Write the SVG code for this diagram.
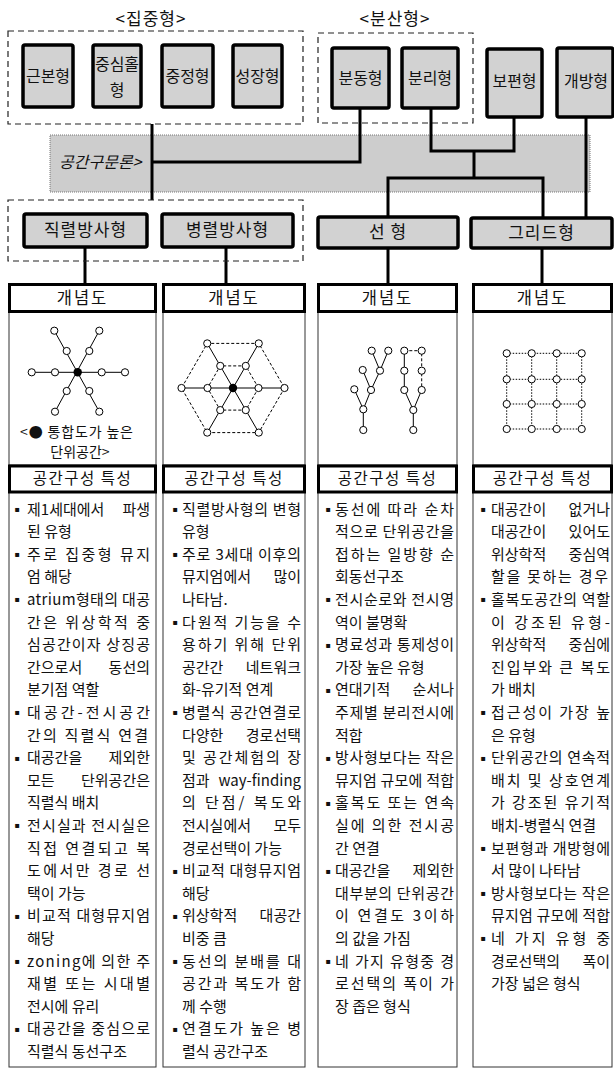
<svg xmlns="http://www.w3.org/2000/svg" width="614" height="1072" viewBox="0 0 614 1072">
<style>
text{font-family:"Noto Sans CJK KR","Noto Sans",sans-serif;fill:#111;}
.h{font-size:16px;text-anchor:middle;}
.h17{font-size:17px;text-anchor:middle;letter-spacing:1px;}
.gbox{fill:#d2d2d2;stroke:#000;stroke-width:3.5;}
.wbox{fill:#fff;stroke:#000;stroke-width:3;}
.dash{fill:none;stroke:#222;stroke-width:1.2;stroke-dasharray:6 4;}
.con{fill:none;stroke:#000;stroke-width:3;}
.body{fill:none;stroke:#333;stroke-width:1;}
.b{font-size:15px;}
.e{text-anchor:end;}
.bul{font-family:"DejaVu Sans",sans-serif;font-size:8px;text-anchor:middle;}
.nd{fill:#fff;stroke:#000;stroke-width:1;}
.sl{stroke:#000;stroke-width:1;fill:none;}
.dl{stroke:#000;stroke-width:1;stroke-dasharray:3 2;fill:none;}
.dt{stroke:#000;stroke-width:1;stroke-dasharray:1.5 1.5;fill:none;}
</style>
<rect x="0" y="0" width="614" height="1072" fill="#fff"/>

<!-- group titles -->
<g id="title-jipjung"><text class="h17" x="151" y="25">&lt;집중형&gt;</text></g>
<g id="title-bunsan"><text class="h17" x="395" y="25">&lt;분산형&gt;</text></g>
<g id="group-jipjung"><rect class="dash" x="8" y="31" width="295" height="93"/></g>
<g id="group-bunsan"><rect class="dash" x="318" y="33" width="155" height="90"/></g>

<!-- band -->
<g id="band-space-syntax">
<rect x="50" y="135" width="540" height="57" fill="#cdcdcd" stroke="#777" stroke-width="1" stroke-dasharray="1 1"/>
<text x="59" y="168" font-size="16" font-style="italic">공간구문론&gt;</text>
</g>

<!-- connectors -->
<g id="connectors" class="con">
<path d="M152,124 V200"/>
<path d="M152,162 H360 V108"/>
<path d="M431,108 V151 H514 V117"/>
<path d="M474,151 V178"/>
<path d="M388,217 V178 H543 V218"/>
<path d="M586,117 V218"/>
<path d="M85,247 V284"/>
<path d="M226,247 V284"/>
<path d="M388,248 V284"/>
<path d="M542,248 V284"/>
</g>

<!-- top row nodes -->
<g id="node-geunbon"><rect class="gbox" x="23" y="45" width="50" height="62" rx="2"/><text class="h" x="48" y="82">근본형</text></g>
<g id="node-jungsimhol"><rect class="gbox" x="93" y="45" width="48" height="62" rx="2"/><text class="h" x="117" y="70">중심홀</text><text class="h" x="117" y="96">형</text></g>
<g id="node-jungjeong"><rect class="gbox" x="162" y="45" width="51" height="62" rx="2"/><text class="h" x="187.5" y="82">중정형</text></g>
<g id="node-seongjang"><rect class="gbox" x="233" y="45" width="49" height="62" rx="2"/><text class="h" x="257.5" y="82">성장형</text></g>
<g id="node-bundong"><rect class="gbox" x="332" y="48" width="57" height="60" rx="2"/><text class="h" x="360.5" y="84">분동형</text></g>
<g id="node-bunri"><rect class="gbox" x="402" y="48" width="56" height="60" rx="2"/><text class="h" x="430" y="84">분리형</text></g>
<g id="node-bopyeon"><rect class="gbox" x="487" y="49" width="55" height="68" rx="2"/><text class="h" x="514.5" y="87">보편형</text></g>
<g id="node-gaebang"><rect class="gbox" x="557" y="48" width="56" height="69" rx="2"/><text class="h" x="586" y="87">개방형</text></g>

<!-- second row -->
<g id="group-bangsa"><rect class="dash" x="8" y="200" width="295" height="61"/></g>
<g id="node-jikryeol"><rect class="gbox" x="24" y="214" width="123" height="33" rx="2"/><text class="h17" x="85.5" y="236">직렬방사형</text></g>
<g id="node-byeongryeol"><rect class="gbox" x="162" y="214" width="131" height="33" rx="2"/><text class="h17" x="227.5" y="236">병렬방사형</text></g>
<g id="node-seon"><rect class="gbox" x="318" y="217" width="140" height="31" rx="2"/><text class="h17" x="388" y="238">선 형</text></g>
<g id="node-grid"><rect class="gbox" x="471" y="218" width="141" height="30" rx="2"/><text class="h17" x="541.5" y="239">그리드형</text></g>

<!-- column 1 -->
<g id="col1">
<rect class="body" x="9" y="312" width="147" height="153"/>
<rect class="body" x="9" y="492" width="147" height="575"/>
<rect class="wbox" x="9.5" y="284.5" width="146" height="27"/>
<text x="82.5" y="304" font-size="16.5" text-anchor="middle" letter-spacing="2">개념도</text>
<rect class="wbox" x="9.5" y="466" width="146" height="26"/>
<text x="82.5" y="484" font-size="15.5" text-anchor="middle" letter-spacing="1.5">공간구성 특성</text>
<g id="diagram-star">
<path class="sl" d="M31.7,372.3 H125 M54.3,330.7 L99.3,411.7 M99.3,330.7 L55,411.7"/>
<circle class="nd" cx="31.7" cy="372.3" r="3.6"/><circle class="nd" cx="55" cy="372.3" r="3.6"/>
<circle class="nd" cx="101.7" cy="372.3" r="3.6"/><circle class="nd" cx="125" cy="372.3" r="3.6"/>
<circle class="nd" cx="54.3" cy="330.7" r="3.6"/><circle class="nd" cx="66.7" cy="351" r="3.6"/>
<circle class="nd" cx="99.3" cy="330.7" r="3.6"/><circle class="nd" cx="89.3" cy="351" r="3.6"/>
<circle class="nd" cx="66.7" cy="391" r="3.6"/><circle class="nd" cx="55" cy="411.7" r="3.6"/>
<circle class="nd" cx="89.3" cy="391" r="3.6"/><circle class="nd" cx="99.3" cy="411.7" r="3.6"/>
<circle cx="77.7" cy="372.3" r="4.2" fill="#000"/>
</g>
<text x="20" y="436.5" font-size="14" textLength="113" lengthAdjust="spacing">&lt;● 통합도가 높은</text>
<text x="80" y="456.5" font-size="14" text-anchor="middle">단위공간&gt;</text>
</g>

<!-- column 2 -->
<g id="col2">
<rect class="body" x="163" y="312" width="142" height="153"/>
<rect class="body" x="163" y="492" width="142" height="575"/>
<rect class="wbox" x="163.5" y="284.5" width="141" height="27"/>
<text x="234" y="304" font-size="16.5" text-anchor="middle" letter-spacing="2">개념도</text>
<rect class="wbox" x="163.5" y="466" width="141" height="26"/>
<text x="234" y="484" font-size="15.5" text-anchor="middle" letter-spacing="1.5">공간구성 특성</text>
<g id="diagram-hex">
<polygon class="dl" points="284.5,388 258.75,432.6 207.25,432.6 181.5,388 207.25,343.4 258.75,343.4"/>
<polygon class="dl" points="258.5,388 245.75,410.1 220.25,410.1 207.5,388 220.25,365.9 245.75,365.9"/>
<path class="sl" d="M181.5,388 H284.5 M207.25,343.4 L258.75,432.6 M258.75,343.4 L207.25,432.6"/>
<circle class="nd" cx="284.5" cy="388" r="3.6"/><circle class="nd" cx="258.75" cy="432.6" r="3.6"/>
<circle class="nd" cx="207.25" cy="432.6" r="3.6"/><circle class="nd" cx="181.5" cy="388" r="3.6"/>
<circle class="nd" cx="207.25" cy="343.4" r="3.6"/><circle class="nd" cx="258.75" cy="343.4" r="3.6"/>
<circle class="nd" cx="258.5" cy="388" r="3.6"/><circle class="nd" cx="245.75" cy="410.1" r="3.6"/>
<circle class="nd" cx="220.25" cy="410.1" r="3.6"/><circle class="nd" cx="207.5" cy="388" r="3.6"/>
<circle class="nd" cx="220.25" cy="365.9" r="3.6"/><circle class="nd" cx="245.75" cy="365.9" r="3.6"/>
<circle cx="233" cy="388" r="4.2" fill="#000"/>
</g>
</g>

<!-- column 3 -->
<g id="col3">
<rect class="body" x="318" y="312" width="139" height="153"/>
<rect class="body" x="318" y="492" width="139" height="575"/>
<rect class="wbox" x="318.5" y="284.5" width="138" height="27"/>
<text x="387.5" y="304" font-size="16.5" text-anchor="middle" letter-spacing="2">개념도</text>
<rect class="wbox" x="318.5" y="466" width="138" height="26"/>
<text x="387.5" y="484" font-size="15.5" text-anchor="middle" letter-spacing="1.5">공간구성 특성</text>
<g id="diagram-linear">
<path class="sl" d="M371.7,350.7 L380,370.7 M388.3,350.7 L380,370.7 L371,390 M362.7,370 L371,390 L363.3,409.3 M354.3,389.3 L363.3,409.3 V430"/>
<path class="sl" d="M404.3,350.7 V390 L413.3,410 L421.7,390 M413.3,410 V430"/>
<path class="dl" d="M404.3,350.7 H421.7 V390"/>
<circle class="nd" cx="371.7" cy="350.7" r="3.6"/><circle class="nd" cx="388.3" cy="350.7" r="3.6"/>
<circle class="nd" cx="362.7" cy="370" r="3.6"/><circle class="nd" cx="380" cy="370.7" r="3.6"/>
<circle class="nd" cx="354.3" cy="389.3" r="3.6"/><circle class="nd" cx="371" cy="390" r="3.6"/>
<circle class="nd" cx="363.3" cy="409.3" r="3.6"/><circle class="nd" cx="363.3" cy="430" r="3.6"/>
<circle class="nd" cx="404.3" cy="350.7" r="3.6"/><circle class="nd" cx="421.7" cy="350.7" r="3.6"/>
<circle class="nd" cx="404.3" cy="370.7" r="3.6"/><circle class="nd" cx="421.7" cy="370.7" r="3.6"/>
<circle class="nd" cx="404.3" cy="390" r="3.6"/><circle class="nd" cx="421.7" cy="390" r="3.6"/>
<circle class="nd" cx="413.3" cy="410" r="3.6"/><circle class="nd" cx="413.3" cy="430" r="3.6"/>
</g>
</g>

<!-- column 4 -->
<g id="col4">
<rect class="body" x="473" y="312" width="139" height="153"/>
<rect class="body" x="473" y="492" width="139" height="575"/>
<rect class="wbox" x="473.5" y="284.5" width="138" height="27"/>
<text x="542.5" y="304" font-size="16.5" text-anchor="middle" letter-spacing="2">개념도</text>
<rect class="wbox" x="473.5" y="466" width="138" height="26"/>
<text x="542.5" y="484" font-size="15.5" text-anchor="middle" letter-spacing="1.5">공간구성 특성</text>
<g id="diagram-grid">
<path class="dt" d="M506.7,353.3 H581.7 M506.7,379.3 H581.7 M506.7,404 H581.7 M506.7,429 H581.7 M506.7,353.3 V429 M531.7,353.3 V429 M556.7,353.3 V429 M581.7,353.3 V429"/>
<circle class="nd" cx="506.7" cy="353.3" r="3.6"/><circle class="nd" cx="531.7" cy="353.3" r="3.6"/><circle class="nd" cx="556.7" cy="353.3" r="3.6"/><circle class="nd" cx="581.7" cy="353.3" r="3.6"/>
<circle class="nd" cx="506.7" cy="379.3" r="3.6"/><circle class="nd" cx="531.7" cy="379.3" r="3.6"/><circle class="nd" cx="556.7" cy="379.3" r="3.6"/><circle class="nd" cx="581.7" cy="379.3" r="3.6"/>
<circle class="nd" cx="506.7" cy="404" r="3.6"/><circle class="nd" cx="531.7" cy="404" r="3.6"/><circle class="nd" cx="556.7" cy="404" r="3.6"/><circle class="nd" cx="581.7" cy="404" r="3.6"/>
<circle class="nd" cx="506.7" cy="429" r="3.6"/><circle class="nd" cx="531.7" cy="429" r="3.6"/><circle class="nd" cx="556.7" cy="429" r="3.6"/><circle class="nd" cx="581.7" cy="429" r="3.6"/>
</g>
</g>

<!-- column 1 text -->
<g id="col1-text" class="b">
<text class="bul" x="17" y="512">▪</text><text x="27" y="514.5">제1세대에서</text><text class="e" x="150" y="514.5">파생</text>
<text x="27" y="537.1">된 유형</text>
<text class="bul" x="17" y="557.2">▪</text><text x="27" y="559.7" textLength="123" lengthAdjust="spacing">주로 집중형 뮤지</text>
<text x="27" y="582.3">엄 해당</text>
<text class="bul" x="17" y="602.4">▪</text><text x="27" y="604.9" textLength="123" lengthAdjust="spacing">atrium형태의 대공</text>
<text x="27" y="627.5" textLength="123" lengthAdjust="spacing">간은 위상학적 중</text>
<text x="27" y="650.1" textLength="123" lengthAdjust="spacing">심공간이자 상징공</text>
<text x="27" y="672.7">간으로서</text><text class="e" x="150" y="672.7">동선의</text>
<text x="27" y="695.3">분기점 역할</text>
<text class="bul" x="17" y="715.4">▪</text><text x="27" y="717.9" textLength="123" lengthAdjust="spacing">대공간-전시공간</text>
<text x="27" y="740.5" textLength="121" lengthAdjust="spacing">간의 직렬식 연결</text>
<text class="bul" x="17" y="760.6">▪</text><text x="27" y="763.1">대공간을</text><text class="e" x="150" y="763.1">제외한</text>
<text x="27" y="785.7">모든</text><text class="e" x="150" y="785.7">단위공간은</text>
<text x="27" y="808.3">직렬식 배치</text>
<text class="bul" x="17" y="828.4">▪</text><text x="27" y="830.9" textLength="123" lengthAdjust="spacing">전시실과 전시실은</text>
<text x="27" y="853.5" textLength="123" lengthAdjust="spacing">직접 연결되고 복</text>
<text x="27" y="876.1" textLength="123" lengthAdjust="spacing">도에서만 경로 선</text>
<text x="27" y="898.7">택이 가능</text>
<text class="bul" x="17" y="918.8">▪</text><text x="27" y="921.3" textLength="123" lengthAdjust="spacing">비교적 대형뮤지엄</text>
<text x="27" y="943.9">해당</text>
<text class="bul" x="17" y="964">▪</text><text x="27" y="966.5" textLength="123" lengthAdjust="spacing">zoning에 의한 주</text>
<text x="27" y="989.1" textLength="123" lengthAdjust="spacing">재별 또는 시대별</text>
<text x="27" y="1011.7">전시에 유리</text>
<text class="bul" x="17" y="1031.8">▪</text><text x="27" y="1034.3" textLength="123" lengthAdjust="spacing">대공간을 중심으로</text>
<text x="27" y="1056.9">직렬식 동선구조</text>
</g>

<!-- column 2 text -->
<g id="col2-text" class="b">
<text class="bul" x="175" y="512">▪</text><text x="182" y="514.5" textLength="119" lengthAdjust="spacing">직렬방사형의 변형</text>
<text x="182" y="537.1">유형</text>
<text class="bul" x="175" y="557.2">▪</text><text x="182" y="559.7" textLength="119" lengthAdjust="spacing">주로 3세대 이후의</text>
<text x="182" y="582.3">뮤지엄에서</text><text class="e" x="301" y="582.3">많이</text>
<text x="182" y="604.9">나타남.</text>
<text class="bul" x="175" y="625">▪</text><text x="182" y="627.5" textLength="119" lengthAdjust="spacing">다원적 기능을 수</text>
<text x="182" y="650.1" textLength="119" lengthAdjust="spacing">용하기 위해 단위</text>
<text x="182" y="672.7">공간간</text><text class="e" x="301" y="672.7">네트워크</text>
<text x="182" y="695.3">화-유기적 연계</text>
<text class="bul" x="175" y="715.4">▪</text><text x="182" y="717.9" textLength="119" lengthAdjust="spacing">병렬식 공간연결로</text>
<text x="182" y="740.5">다양한</text><text class="e" x="301" y="740.5">경로선택</text>
<text x="182" y="763.1" textLength="119" lengthAdjust="spacing">및 공간체험의 장</text>
<text x="182" y="785.7">점과</text><text class="e" x="301" y="785.7">way-finding</text>
<text x="182" y="808.3" textLength="119" lengthAdjust="spacing">의 단점/ 복도와</text>
<text x="182" y="830.9">전시실에서</text><text class="e" x="301" y="830.9">모두</text>
<text x="182" y="853.5">경로선택이 가능</text>
<text class="bul" x="175" y="873.6">▪</text><text x="182" y="876.1" textLength="119" lengthAdjust="spacing">비교적 대형뮤지엄</text>
<text x="182" y="898.7">해당</text>
<text class="bul" x="175" y="918.8">▪</text><text x="182" y="921.3">위상학적</text><text class="e" x="301" y="921.3">대공간</text>
<text x="182" y="943.9">비중 큼</text>
<text class="bul" x="175" y="964">▪</text><text x="182" y="966.5" textLength="119" lengthAdjust="spacing">동선의 분배를 대</text>
<text x="182" y="989.1" textLength="119" lengthAdjust="spacing">공간과 복도가 함</text>
<text x="182" y="1011.7">께 수행</text>
<text class="bul" x="175" y="1031.8">▪</text><text x="182" y="1034.3" textLength="119" lengthAdjust="spacing">연결도가 높은 병</text>
<text x="182" y="1056.9">렬식 공간구조</text>
</g>

<!-- column 3 text -->
<g id="col3-text" class="b">
<text class="bul" x="328" y="512">▪</text><text x="335" y="514.5" textLength="119" lengthAdjust="spacing">동선에 따라 순차</text>
<text x="335" y="537.1" textLength="119" lengthAdjust="spacing">적으로 단위공간을</text>
<text x="335" y="559.7" textLength="119" lengthAdjust="spacing">접하는 일방향 순</text>
<text x="335" y="582.3">회동선구조</text>
<text class="bul" x="328" y="602.4">▪</text><text x="335" y="604.9" textLength="119" lengthAdjust="spacing">전시순로와 전시영</text>
<text x="335" y="627.5">역이 불명확</text>
<text class="bul" x="328" y="647.6">▪</text><text x="335" y="650.1" textLength="119" lengthAdjust="spacing">명료성과 통제성이</text>
<text x="335" y="672.7">가장 높은 유형</text>
<text class="bul" x="328" y="692.8">▪</text><text x="335" y="695.3">연대기적</text><text class="e" x="454" y="695.3">순서나</text>
<text x="335" y="717.9" textLength="119" lengthAdjust="spacing">주제별 분리전시에</text>
<text x="335" y="740.5">적합</text>
<text class="bul" x="328" y="760.6">▪</text><text x="335" y="763.1" textLength="119" lengthAdjust="spacing">방사형보다는 작은</text>
<text x="335" y="785.7" textLength="119" lengthAdjust="spacing">뮤지엄 규모에 적합</text>
<text class="bul" x="328" y="805.8">▪</text><text x="335" y="808.3" textLength="119" lengthAdjust="spacing">홀복도 또는 연속</text>
<text x="335" y="830.9" textLength="119" lengthAdjust="spacing">실에 의한 전시공</text>
<text x="335" y="853.5">간 연결</text>
<text class="bul" x="328" y="873.6">▪</text><text x="335" y="876.1">대공간을</text><text class="e" x="454" y="876.1">제외한</text>
<text x="335" y="898.7" textLength="119" lengthAdjust="spacing">대부분의 단위공간</text>
<text x="335" y="921.3" textLength="119" lengthAdjust="spacing">이 연결도 3이하</text>
<text x="335" y="943.9">의 값을 가짐</text>
<text class="bul" x="328" y="964">▪</text><text x="335" y="966.5" textLength="119" lengthAdjust="spacing">네 가지 유형중 경</text>
<text x="335" y="989.1" textLength="119" lengthAdjust="spacing">로선택의 폭이 가</text>
<text x="335" y="1011.7">장 좁은 형식</text>
</g>

<!-- column 4 text -->
<g id="col4-text" class="b">
<text class="bul" x="483" y="512">▪</text><text x="491" y="514.5">대공간이</text><text class="e" x="610" y="514.5">없거나</text>
<text x="491" y="537.1">대공간이</text><text class="e" x="610" y="537.1">있어도</text>
<text x="491" y="559.7">위상학적</text><text class="e" x="610" y="559.7">중심역</text>
<text x="491" y="582.3" textLength="117" lengthAdjust="spacing">할을 못하는 경우</text>
<text class="bul" x="483" y="602.4">▪</text><text x="491" y="604.9" textLength="119" lengthAdjust="spacing">홀복도공간의 역할</text>
<text x="491" y="627.5" textLength="119" lengthAdjust="spacing">이 강조된 유형-</text>
<text x="491" y="650.1">위상학적</text><text class="e" x="610" y="650.1">중심에</text>
<text x="491" y="672.7" textLength="119" lengthAdjust="spacing">진입부와 큰 복도</text>
<text x="491" y="695.3">가 배치</text>
<text class="bul" x="483" y="715.4">▪</text><text x="491" y="717.9" textLength="119" lengthAdjust="spacing">접근성이 가장 높</text>
<text x="491" y="740.5">은 유형</text>
<text class="bul" x="483" y="760.6">▪</text><text x="491" y="763.1" textLength="119" lengthAdjust="spacing">단위공간의 연속적</text>
<text x="491" y="785.7" textLength="119" lengthAdjust="spacing">배치 및 상호연계</text>
<text x="491" y="808.3" textLength="119" lengthAdjust="spacing">가 강조된 유기적</text>
<text x="491" y="830.9">배치-병렬식 연결</text>
<text class="bul" x="483" y="851">▪</text><text x="491" y="853.5" textLength="119" lengthAdjust="spacing">보편형과 개방형에</text>
<text x="491" y="876.1">서 많이 나타남</text>
<text class="bul" x="483" y="896.2">▪</text><text x="491" y="898.7" textLength="119" lengthAdjust="spacing">방사형보다는 작은</text>
<text x="491" y="921.3" textLength="119" lengthAdjust="spacing">뮤지엄 규모에 적합</text>
<text class="bul" x="483" y="941.4">▪</text><text x="491" y="943.9" textLength="119" lengthAdjust="spacing">네 가지 유형 중</text>
<text x="491" y="966.5">경로선택의</text><text class="e" x="610" y="966.5">폭이</text>
<text x="491" y="989.1">가장 넓은 형식</text>
</g>
</svg>
